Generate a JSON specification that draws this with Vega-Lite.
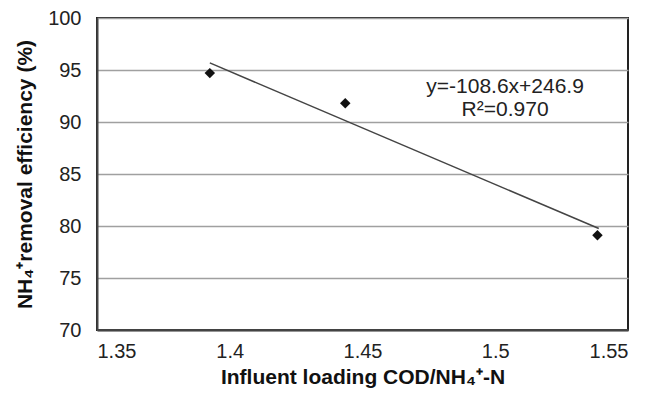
{
  "$schema": "https://vega.github.io/schema/vega-lite/v6.json",
  "width": 531,
  "height": 312,
  "autosize": {"type": "none"},
  "padding": {"left": 97, "top": 18, "right": 19, "bottom": 65},
  "background": "white",
  "config": {
    "view": {"stroke": "#222", "strokeWidth": 2},
    "font": "Liberation Sans",
    "axis": {
      "labelFont": "Liberation Sans",
      "titleFont": "Liberation Sans",
      "labelFontSize": 20,
      "titleFontSize": 21,
      "titleFontWeight": "bold",
      "labelColor": "#222",
      "titleColor": "#111",
      "domainColor": "#444",
      "domainWidth": 2,
      "ticks": false,
      "gridColor": "#a0a0a0",
      "gridWidth": 1.5
    }
  },
  "datasets": {
    "points": [
      {"x": 1.3925, "y": 94.7},
      {"x": 1.4435, "y": 91.8},
      {"x": 1.5385, "y": 79.1}
    ],
    "trend": [
      {"x": 1.3925, "y": 95.68},
      {"x": 1.539, "y": 79.76}
    ],
    "labels": [
      {"x": 1.5037, "y": 93.4, "label": "y=-108.6x+246.9"},
      {"x": 1.5037, "y": 91.15, "label": "R²=0.970"}
    ]
  },
  "layer": [
    {
      "data": {"name": "trend"},
      "mark": {"type": "line", "color": "#444", "strokeWidth": 1.5},
      "encoding": {
        "x": {
          "field": "x", "type": "quantitative",
          "scale": {"domain": [1.35, 1.55], "nice": false, "zero": false},
          "axis": {
            "values": [1.35, 1.4, 1.45, 1.5, 1.55],
            "format": "~g",
            "grid": false,
            "labelPadding": 11,
            "titlePadding": 5,
            "title": "Influent loading COD/NH₄⁺-N"
          }
        },
        "y": {
          "field": "y", "type": "quantitative",
          "scale": {"domain": [70, 100], "nice": false, "zero": false},
          "axis": {
            "values": [70, 75, 80, 85, 90, 95, 100],
            "grid": true,
            "labelPadding": 16,
            "titlePadding": 12,
            "title": "NH₄⁺removal efficiency (%)"
          }
        }
      }
    },
    {
      "data": {"name": "points"},
      "mark": {"type": "point", "shape": "diamond", "filled": true, "color": "#111", "opacity": 1, "size": 110},
      "encoding": {
        "x": {"field": "x", "type": "quantitative"},
        "y": {"field": "y", "type": "quantitative"}
      }
    },
    {
      "data": {"name": "labels"},
      "mark": {"type": "text", "fontSize": 21, "font": "Liberation Sans", "color": "#222", "align": "center", "baseline": "middle"},
      "encoding": {
        "x": {"field": "x", "type": "quantitative"},
        "y": {"field": "y", "type": "quantitative"},
        "text": {"field": "label"}
      }
    }
  ]
}
